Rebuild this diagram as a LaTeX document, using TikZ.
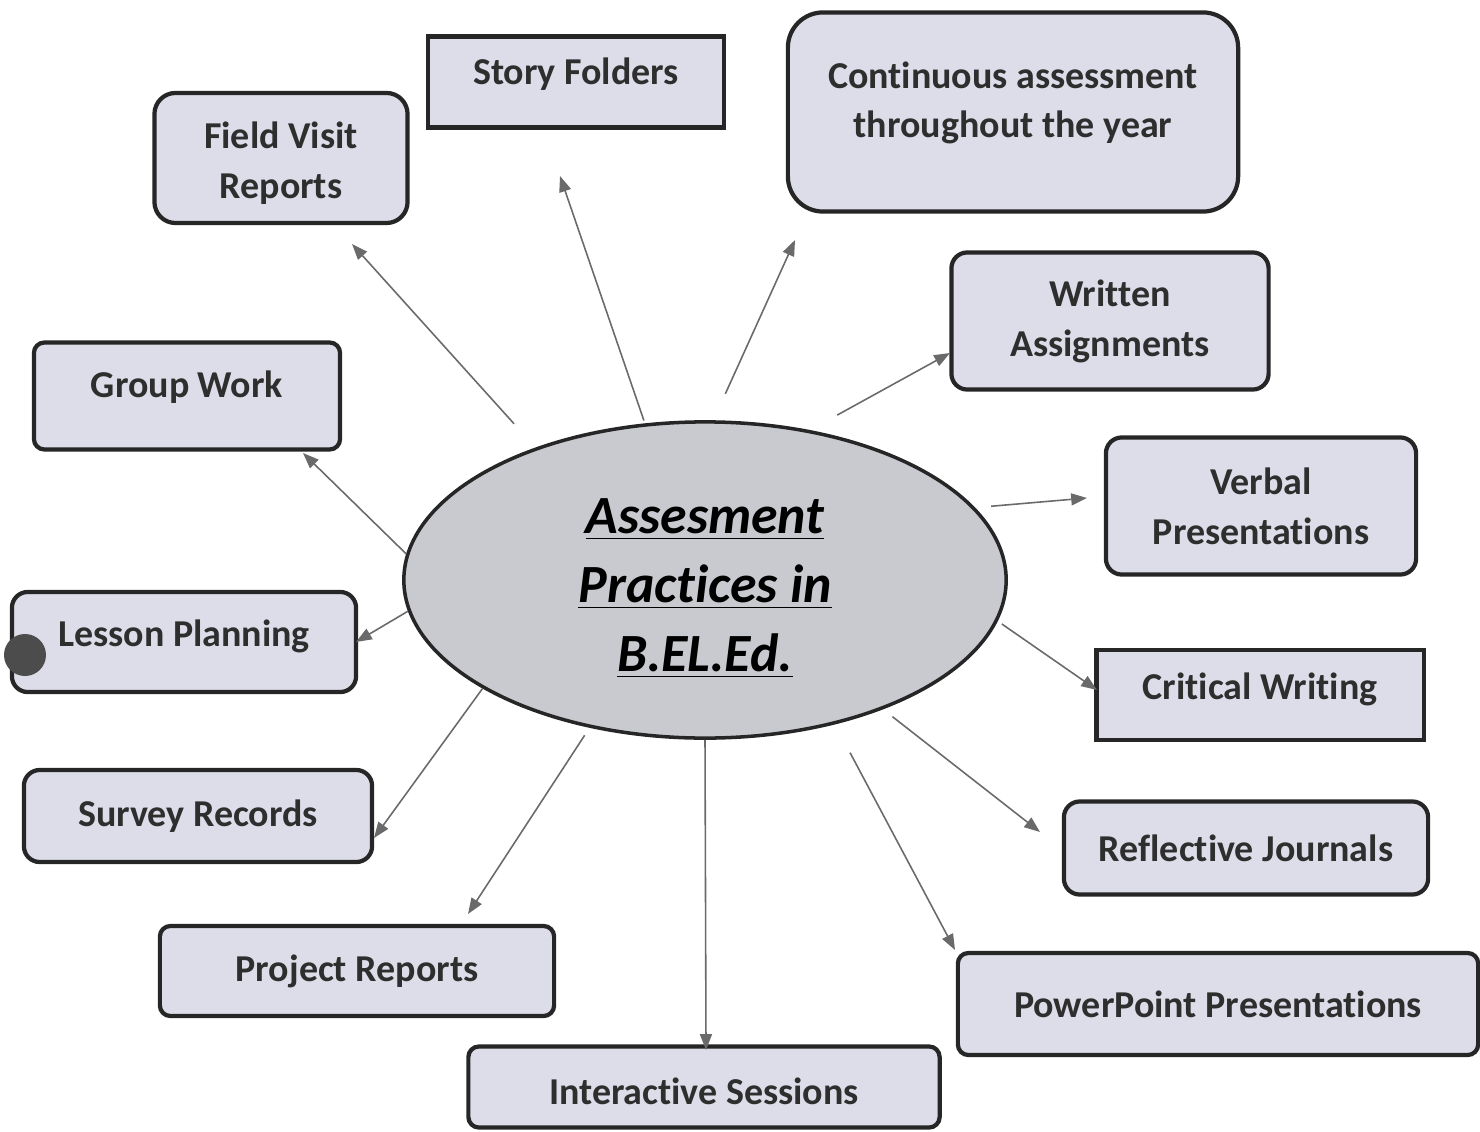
\documentclass[tikz,border=0pt]{standalone}
\usepackage{fontspec}
\setmainfont{Carlito}[Ligatures=NoCommon]
\usepackage{tikz}
\usetikzlibrary{shapes.geometric,arrows.meta}
\usepackage{xcolor}
\definecolor{boxfill}{HTML}{DCDDE8}
\definecolor{hubfill}{HTML}{C9CACF}
\definecolor{boxtext}{HTML}{2E2E2E}
\definecolor{arrowgray}{HTML}{6A6A6A}
\tikzstyle{mybox} = [draw=black!85, fill=boxfill, line width=1.2pt,
    rectangle, rounded corners=4.5pt, inner sep=0pt, align=center,
    text=boxtext, font=\fontsize{10.8}{14.2}\selectfont\bfseries]
\tikzstyle{mysquare} = [mybox, sharp corners]
\tikzstyle{myhub} = [draw=black!85, fill=hubfill, line width=1pt,
    ellipse, inner sep=0pt, align=center,
    font=\fontsize{15.3}{19.6}\selectfont\bfseries\itshape]
\tikzstyle{myarrow} = [draw=arrowgray, line width=0.45pt,
    -{Triangle[length=4.5pt,width=3.4pt]}]

\begin{document}
\begin{tikzpicture}[x=0.01cm,y=-0.01cm]
    \useasboundingbox (0,0) rectangle (1480,1131);
    % centre
    \node [myhub, minimum width=6.02cm, minimum height=3.16cm, text height=54pt] (hub) at (705,580)
        {\underline{Assesment}\\ \underline{Practices in}\\ \underline{B.EL.Ed.}};
    % boxes round the centre
    \node [mysquare, minimum width=2.96cm, minimum height=0.91cm, text depth=6pt] (story) at (576,82) {Story Folders};
    \node [mybox, rounded corners=6pt, minimum width=2.53cm, minimum height=1.30cm, text height=24.6pt] (field) at (281,158) {Field Visit\\Reports};
    \node [mybox, rounded corners=10pt, minimum width=4.50cm, minimum height=1.99cm, text depth=7pt] (cont) at (1013,112) {Continuous assessment\\throughout the year};
    \node [mybox, minimum width=3.17cm, minimum height=1.37cm] (written) at (1110,321) {Written\\Assignments};
    \node [mybox, rounded corners=3pt, minimum width=3.06cm, minimum height=1.07cm, text depth=7pt] (group) at (187,396) {Group Work};
    \node [mybox, minimum width=3.10cm, minimum height=1.37cm] (verbal) at (1261,506) {Verbal\\Presentations};
    \node [mybox, minimum width=3.44cm, minimum height=1.00cm, text depth=5pt] (lesson) at (184,642) {Lesson Planning};
    \node [mysquare, minimum width=3.27cm, minimum height=0.90cm, text depth=5pt] (critical) at (1260,695) {Critical Writing};
    \node [mybox, minimum width=3.48cm, minimum height=0.92cm] (survey) at (198,816) {Survey Records};
    \node [mybox, minimum width=3.64cm, minimum height=0.93cm] (reflect) at (1246,848) {Reflective Journals};
    \node [mybox, rounded corners=3pt, minimum width=3.94cm, minimum height=0.90cm] (project) at (357,971) {Project Reports};
    \node [mybox, rounded corners=3pt, minimum width=5.20cm, minimum height=1.02cm] (power) at (1218,1004) {PowerPoint Presentations};
    \node [mybox, rounded corners=3pt, minimum width=4.71cm, minimum height=0.81cm, text height=10pt] (inter) at (704,1087) {Interactive Sessions};
    % arrow tips
    \coordinate (field-tip) at (352,244);
    \coordinate (story-tip) at (560,176);
    \coordinate (cont-tip) at (795,240);
    \coordinate (written-tip) at (950,353);
    \coordinate (verbal-tip) at (1087,498);
    \coordinate (critical-tip) at (1097,690);
    \coordinate (reflect-tip) at (1040,832);
    \coordinate (power-tip) at (955,950);
    \coordinate (inter-tip) at (706,1050);
    \coordinate (project-tip) at (468,914);
    \coordinate (survey-tip) at (374,838);
    \coordinate (lesson-tip) at (356,642);
    \coordinate (group-tip) at (303,453);
    \draw [myarrow, shorten <=0.32cm] (hub.142.4) -- (field-tip);
    \draw [myarrow, shorten <=0.03cm] (hub.111.4) -- (story-tip);
    \draw [myarrow, shorten <=0.29cm] (hub.87) -- (cont-tip);
    \draw [myarrow, shorten <=0.31cm] (hub.55.5) -- (written-tip);
    \draw [myarrow, shorten <=0.16cm] (hub.15.9) -- (verbal-tip);
    \draw [myarrow, shorten <=0.05cm] (hub.-8.1) -- (critical-tip);
    \draw [myarrow, shorten <=0.12cm] (hub.-36.3) -- (reflect-tip);
    \draw [myarrow, shorten <=0.32cm] (hub.-48.8) -- (power-tip);
    \draw [myarrow] (hub.-90.4) -- (inter-tip);
    \draw [myarrow, shorten <=0.09cm] (hub.-128.1) -- (project-tip);
    \draw [myarrow] (hub.-154.6) -- (survey-tip);
    \draw [myarrow] (hub.186.9) -- (lesson-tip);
    \draw [myarrow] (hub.175.2) -- (group-tip);
    % punch hole on the scan
    \fill [black!70] (25,655) circle (21);
\end{tikzpicture}
\end{document}
